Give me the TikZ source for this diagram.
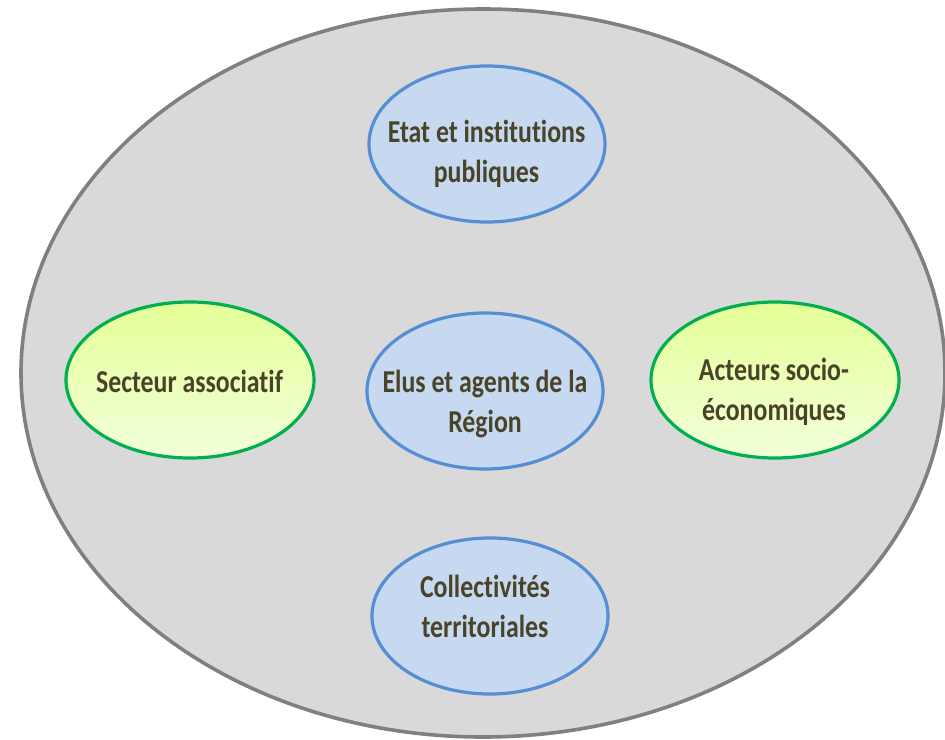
\documentclass[tikz,border=0pt]{standalone}
\usepackage{fontspec}
\setmainfont{Carlito}[FakeStretch=0.81, Ligatures=NoCommon]
\usetikzlibrary{shapes.geometric}
\definecolor{ringfill}{RGB}{217,217,217}
\definecolor{ringline}{RGB}{128,128,128}
\definecolor{bluefill}{RGB}{198,217,240}
\definecolor{blueline}{RGB}{85,142,213}
\definecolor{greenline}{RGB}{0,176,80}
\definecolor{greentop}{RGB}{228,255,150}
\definecolor{greenbot}{RGB}{242,255,218}
\definecolor{labeltext}{RGB}{73,68,41}
\tikzset{
  actor/.style={ellipse, line width=3.2bp, inner sep=0pt,
    minimum width=236bp, minimum height=156bp},
  bluebox/.style={actor, draw=blueline, fill=bluefill},
  greenbox/.style={actor, draw=greenline, minimum width=248bp,
    top color=greentop, bottom color=greenbot},
  caption/.style={align=center, text=labeltext, anchor=base,
    font=\fontsize{32}{40}\selectfont\bfseries, inner sep=0pt}
}
\begin{document}
\begin{tikzpicture}[x=1bp,y=-1bp]
  \useasboundingbox (0,0) rectangle (945,740);
  % outer field holding all actors
  \draw[line width=3.6bp, draw=ringline, fill=ringfill] (483,373) ellipse [x radius=462bp, y radius=364bp];

  \node[bluebox]  (etat)    at (487,144) {};
  \node[bluebox]  (elus)    at (485,391) {};
  \node[bluebox]  (coll)    at (490,616) {};
  \node[greenbox] (assoc)   at (190,380) {};
  \node[greenbox] (acteurs) at (775,380) {};

  % captions: the base anchor sits on the last line's baseline
  \node[caption] (etat-t)    at (486.5,182) {Etat et institutions\\publiques};
  \node[caption] (elus-t)    at (485,432)   {Elus et agents de la\\Région};
  \node[caption] (coll-t)    at (485,637)   {Collectivités\\territoriales};
  \node[caption] (assoc-t)   at (189.5,392) {Secteur associatif};
  \node[caption] (acteurs-t) at (774,420)   {Acteurs socio-\\économiques};
\end{tikzpicture}
\end{document}
